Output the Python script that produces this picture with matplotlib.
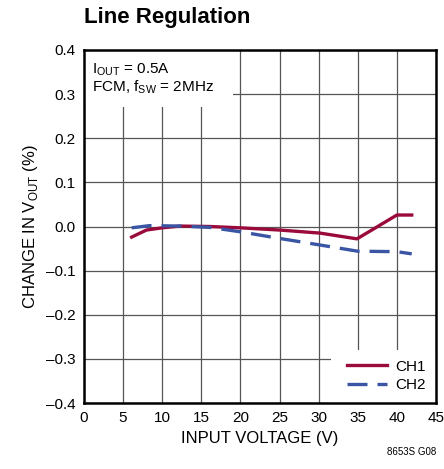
import matplotlib
matplotlib.use('Agg')
import matplotlib.pyplot as plt
from matplotlib.patches import Rectangle

plt.rcParams['font.family'] = ['Liberation Sans Narrow', 'Liberation Sans', 'DejaVu Sans']
plt.rcParams['axes.unicode_minus'] = True

# data
ch1_v = [6.1, 8.0, 10.0, 12.3, 16.1, 20.0, 25.0, 30.2, 34.9, 40.0, 41.9]
ch1_dv = [-0.024, -0.008, -0.003, 0.001, 0.000, -0.003, -0.008, -0.015, -0.028, 0.026, 0.026]
ch2_v = [6.1, 8.4, 12.3, 16.1, 20.0, 25.0, 30.2, 35.0, 40.0, 41.9]
ch2_dv = [-0.003, 0.002, 0.001, -0.002, -0.012, -0.027, -0.042, -0.056, -0.057, -0.062]

x_ticks = [0, 5, 10, 15, 20, 25, 30, 35, 40, 45]
y_ticks = [-0.4, -0.3, -0.2, -0.1, 0.0, 0.1, 0.2, 0.3, 0.4]

fig = plt.figure(figsize=(4.44, 4.69), dpi=100)
ax = fig.add_axes([0.189, 0.1407, 0.793, 0.7527])

ax.plot(ch1_v, ch1_dv, color='#9b0a3c', lw=2.4, label='CH1', zorder=3)
ax.plot(ch2_v, ch2_dv, color='#3a55a4', lw=2.4, dashes=(6, 3), label='CH2', zorder=3)

ax.set_xlim(0, 45)
ax.set_ylim(-0.4, 0.4)
ax.set_xticks(x_ticks)
ax.set_yticks(y_ticks)
ax.set_yticklabels(['%.1f' % t if t >= 0 else '\u2013%.1f' % -t for t in y_ticks])
ax.tick_params(length=0, labelsize=11, pad=6)
ax.grid(True, color='#555555', lw=0.9)
for s in ax.spines.values():
    s.set_linewidth(1.8)

# white boxes behind the notes and the legend
ax.add_patch(Rectangle((0, 0.27), 19.0, 0.13, facecolor='white', edgecolor='none', zorder=2))
ax.add_patch(Rectangle((31.6, -0.4), 13.4, 0.12, facecolor='white', edgecolor='none', zorder=2))
ax.text(1.0, 0.355, r'I$_{\mathregular{OUT}}$ = 0.5A', fontsize=11, va='center', zorder=4)
ax.text(1.0, 0.315, r'FCM, f$_{\mathregular{SW}}$ = 2MHz', fontsize=11, va='center', zorder=4)

ax.legend(loc='lower right', frameon=False, fontsize=11, handlelength=2.6,
          borderaxespad=0.3, labelspacing=0.3, handletextpad=0.5)

ax.set_xlabel('INPUT VOLTAGE (V)', fontsize=12, labelpad=4)
ax.set_ylabel(r'CHANGE IN V$_{\mathregular{OUT}}$ (%)', fontsize=12, labelpad=4)

fig.text(0.189, 0.962, 'Line Regulation', fontsize=16, fontweight='bold', va='center')
fig.text(0.982, 0.036, '8653S G08', fontsize=7, ha='right', va='center')

fig.savefig('out.png', dpi=100)
